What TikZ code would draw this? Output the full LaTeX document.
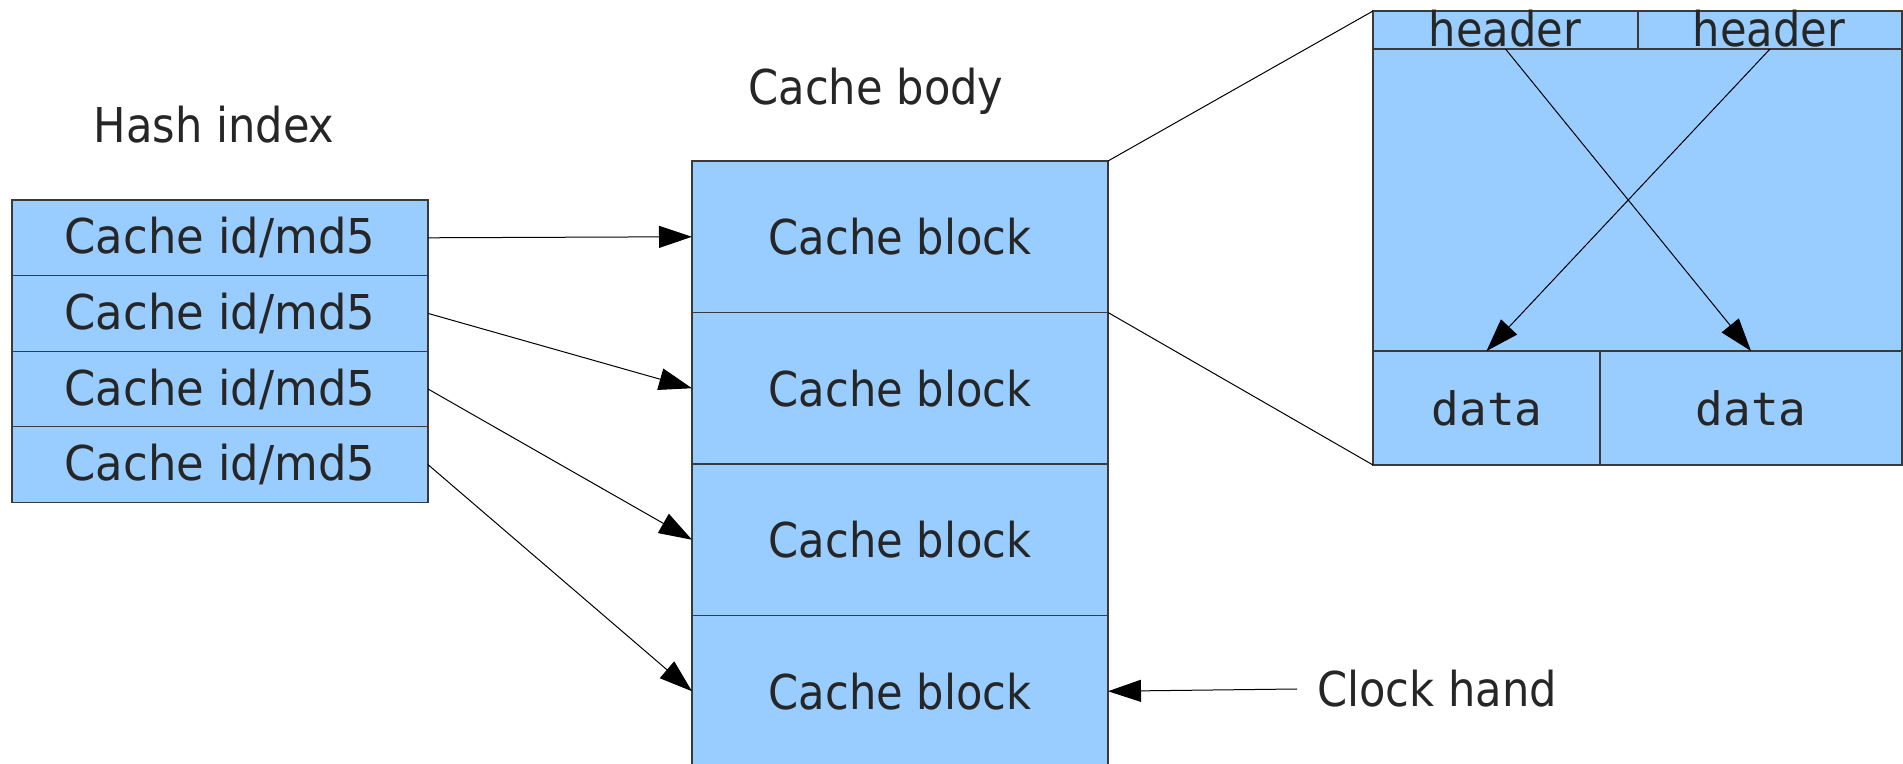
\documentclass[tikz,border=0pt]{standalone}
\usepackage{fontspec}
\usetikzlibrary{arrows.meta}
\newfontfamily\dvsans[FakeStretch=0.9]{DejaVu Sans}
\newfontfamily\dvsanswide[FakeStretch=0.935]{DejaVu Sans}
\newfontfamily\dvmono{DejaVu Sans Mono}
\definecolor{cellblue}{HTML}{99CCFF}
\definecolor{txtgray}{HTML}{262626}
\definecolor{edgegray}{HTML}{3A3A3A}
\tikzset{
  cell/.style={draw=edgegray, fill=cellblue, line width=0.6pt, inner sep=0pt, outer sep=0pt,
    text=txtgray, font=\dvsans\fontsize{24pt}{28pt}\selectfont},
  hashcell/.style={cell, font=\dvsanswide\fontsize{24pt}{28pt}\selectfont},
  lbl/.style={inner sep=0pt, text=txtgray, font=\dvsans\fontsize{24pt}{28pt}\selectfont},
  monolbl/.style={inner sep=0pt, text=txtgray, font=\dvmono\fontsize{23pt}{27pt}\selectfont},
  arr/.style={draw=black, line width=0.5pt, -{Triangle[length=16.5pt, width=11pt]}},
  thinline/.style={draw=black, line width=0.5pt},
}
\begin{document}
\begin{tikzpicture}[x=0.5pt, y=-0.5pt]
\useasboundingbox[fill=white] (0,0) rectangle (1903,764);

% Labels
\node[lbl, anchor=base] (hashlbl) at (214,143) {Hash index};
\node[lbl, anchor=base] (bodylbl) at (876,105) {Cache body};
\node[lbl, anchor=base] (clocklbl) at (1437,706.5) {Clock hand};

% Hash index rows
\foreach \i/\y in {1/237.8, 2/313.4, 3/389, 4/464.6}{
  \node[hashcell, minimum width=208pt, minimum height=37.8pt] (h\i) at (220,\y) {Cache id/md5};
}

% Cache body blocks
\foreach \i/\y in {1/236.75, 2/388.25, 3/539.75, 4/691.25}{
  \node[cell, minimum width=208pt, minimum height=75.75pt] (cb\i) at (900,\y) {Cache block};
}

% Detail of one cache block
\node[cell, minimum width=264.5pt, minimum height=151pt] (mid) at (1637.5,200) {};
\node[cell, minimum width=132.5pt, minimum height=19pt] (hd1) at (1505.5,30) {};
\node[cell, minimum width=132pt, minimum height=19pt] (hd2) at (1770,30) {};
\node[cell, minimum width=113.5pt, minimum height=57pt] (dt1) at (1486.5,408) {};
\node[cell, minimum width=151pt, minimum height=57pt] (dt2) at (1751,408) {};
\node[lbl, anchor=base] (hdt1) at (1505,47) {header};
\node[lbl, anchor=base] (hdt2) at (1769,47) {header};
\node[monolbl] (dtx1) at (1487,408) {data};
\node[monolbl] (dtx2) at (1751,408) {data};

% Zoom lines
\draw[thinline] (cb1.north east) -- (hd1.north west);
\draw[thinline] (cb1.south east) -- (dt1.south west);

% Crossing arrows
\draw[arr] (hd1.south) -- (dt2.north);
\draw[arr] (hd2.south) -- (dt1.north);

% Hash to cache arrows
\draw[arr] (h1.east) -- (cb1.west);
\draw[arr] (h2.east) -- (cb2.west);
\draw[arr] (h3.east) -- (cb3.west);
\draw[arr] (h4.east) -- (cb4.west);

% Clock hand
\coordinate (clk) at (1297,689);
\draw[arr] (clk) -- (cb4.east);
\end{tikzpicture}
\end{document}
